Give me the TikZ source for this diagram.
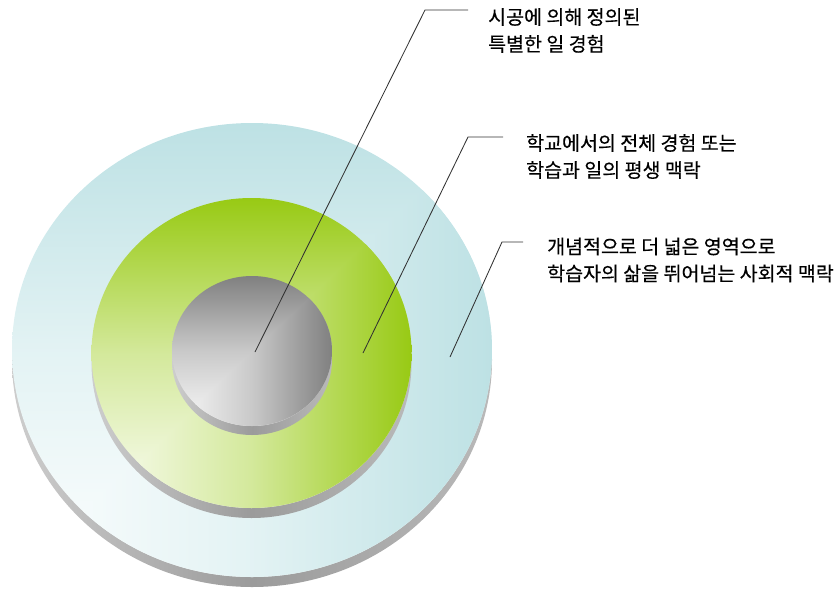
\documentclass[tikz,border=0pt]{standalone}
\usepackage{fontspec}
\newfontfamily\kr[FakeBold=0.4]{Noto Sans CJK KR}
\definecolor{cyanc}{RGB}{189,225,228}
\definecolor{cyanw}{RGB}{252,254,254}
\definecolor{greenc}{RGB}{152,202,20}
\definecolor{greenw}{RGB}{251,253,245}
\definecolor{grayd}{RGB}{128,128,128}
\definecolor{grayw}{RGB}{250,250,250}
\definecolor{rimL}{RGB}{205,205,205}
\definecolor{rimM}{RGB}{155,155,155}
\definecolor{rimR}{RGB}{185,185,185}
\definecolor{leader}{RGB}{50,50,50}
\newcommand\ringdisk[9]{%
  % #1 cx, #2 cy, #3 rx, #4 ry, #5 rim shift, #6 main colour, #7 light colour, #8 rim left, #9 rim right
  \shade[left color=#8, right color=#9, middle color=rimM] (#1,#2-#5) ellipse [x radius=#3, y radius=#4];
  \begin{scope}
    \clip (#1,#2) ellipse [x radius=#3, y radius=#4];
    \shade[top color=#6, bottom color=#7, middle color=#6!40!#7] (#1-#3,#2-#4) rectangle (#1+#3,#2+#4);
    \clip (#1-#3,#2-#4) -- (#1+#3,#2+#4) -- (#1+#3,#2-#4) -- cycle;
    \shade[left color=#7, right color=#6, middle color=#6!40!#7] (#1-#3,#2-#4) rectangle (#1+#3,#2+#4);
  \end{scope}}
\begin{document}
\begin{tikzpicture}[x=1pt,y=1pt,
  leaderline/.style={draw=leader, line width=0.85pt},
  lbl/.style={font=\kr\fontsize{19.5}{27}\selectfont, anchor=west, align=left, inner sep=0pt, text=black}]
\useasboundingbox (0,0) rectangle (840,-589);
% disks
\ringdisk{252}{-350}{240}{227}{10}{cyanc}{cyanw}{rimL}{rimR}
\ringdisk{251.5}{-353}{160}{155}{10}{greenc}{greenw}{rimL}{rimR}
\ringdisk{252}{-351}{80}{75}{9}{grayd}{grayw}{rimL}{rimR}
% labels
\node[lbl] (t1) at (488,-30.5) {시공에 의해 정의된\\특별한 일 경험};
\node[lbl] (t2) at (526,-156.5) {학교에서의 전체 경험 또는\\학습과 일의 평생 맥락};
\node[lbl] (t3) at (547,-260) {개념적으로 더 넓은 영역으로\\학습자의 삶을 뛰어넘는 사회적 맥락};
% leader lines
\coordinate (p1) at (255,-352); \coordinate (k1) at (425,-10); \coordinate (e1) at (468,-10);
\coordinate (p2) at (363,-353); \coordinate (k2) at (468,-137); \coordinate (e2) at (503,-137);
\coordinate (p3) at (450,-357); \coordinate (k3) at (502,-242); \coordinate (e3) at (523,-242);
\draw[leaderline] (p1) -- (k1) -- (e1);
\draw[leaderline] (p2) -- (k2) -- (e2);
\draw[leaderline] (p3) -- (k3) -- (e3);
\end{tikzpicture}
\end{document}
